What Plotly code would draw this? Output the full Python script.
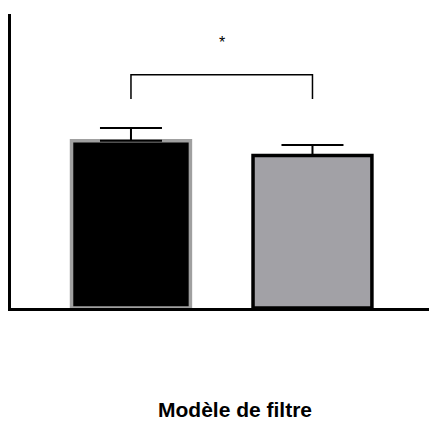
import plotly.graph_objects as go

categories = ["A", "B"]
means = [56.9, 51.9]
errors = [4.3, 3.5]
fill_colors = ["#000000", "#a2a1a6"]
border_colors = ["#a0a0a0", "#000000"]
bracket_y = 79.3
bracket_bottom = 71.1
star_y = 90.3
title_text = "Modèle de filtre"

xpos = [0, 1]

fig = go.Figure()
fig.add_trace(go.Bar(
    x=xpos, y=means, width=0.655,
    marker=dict(color=fill_colors, line=dict(color=border_colors, width=3.5)),
    error_y=dict(type="data", symmetric=False, array=errors,
                 arrayminus=[0, 0], color="black", thickness=2, width=31),
    showlegend=False, hoverinfo="skip",
))

# significance bracket
fig.add_trace(go.Scatter(
    x=[xpos[0], xpos[0], xpos[1], xpos[1]],
    y=[bracket_bottom, bracket_y, bracket_y, bracket_bottom],
    mode="lines", line=dict(color="black", width=1.5),
    showlegend=False, hoverinfo="skip",
))
fig.add_annotation(x=(xpos[0] + xpos[1]) / 2, y=star_y, text="*",
                   showarrow=False, font=dict(size=16, color="black",
                                              family="Liberation Sans"))

fig.add_annotation(x=0.535, y=-0.39, xref="paper", yref="paper",
                   text="<b>" + title_text + "</b>", showarrow=False,
                   font=dict(size=21, color="black", family="Liberation Sans"))

fig.update_layout(
    width=429, height=423,
    margin=dict(l=11, r=0, t=14, b=115),
    plot_bgcolor="white", paper_bgcolor="white",
    xaxis=dict(range=[-0.661, 1.642], showline=True, linecolor="black",
               linewidth=3, showticklabels=False, ticks="", showgrid=False,
               zeroline=False),
    yaxis=dict(range=[0, 100], showline=True, linecolor="black",
               linewidth=3, showticklabels=False, ticks="", showgrid=False,
               zeroline=False),
)

fig.write_html("out.html")
